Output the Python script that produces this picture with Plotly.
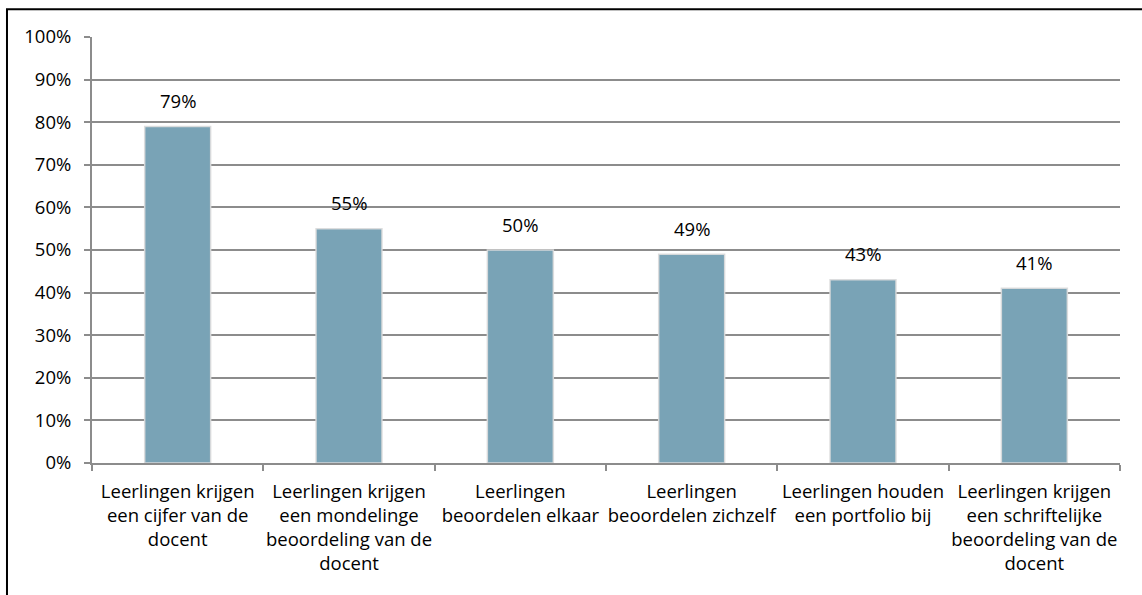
import plotly.graph_objects as go

categories = [
    "Leerlingen krijgen<br>een cijfer van de<br>docent",
    "Leerlingen krijgen<br>een mondelinge<br>beoordeling van de<br>docent",
    "Leerlingen<br>beoordelen elkaar",
    "Leerlingen<br>beoordelen zichzelf",
    "Leerlingen houden<br>een portfolio bij",
    "Leerlingen krijgen<br>een schriftelijke<br>beoordeling van de<br>docent",
]
values = [79, 55, 50, 49, 43, 41]
y_ticks = list(range(0, 101, 10))
y_tick_labels = [f"{v}%" for v in y_ticks]

FONT = "Open Sans, Liberation Sans, sans-serif"
FSIZE = 18.5
GRID = "#8c8c8c"

fig = go.Figure()
fig.add_trace(go.Bar(
    x=categories,
    y=values,
    width=0.385,
    marker=dict(color="#79a3b6", line=dict(color="rgba(220,220,220,0.9)", width=1.5)),
    hoverinfo="x+y",
))

# Value labels above each bar
for cat, v in zip(categories, values):
    fig.add_annotation(
        x=cat, y=v, xref="x", yref="y",
        text=f"{v}%", showarrow=False,
        yanchor="middle", yshift=26,
        font=dict(family=FONT, size=FSIZE, color="#000000"),
    )

fig.update_layout(
    width=1142, height=595,
    margin=dict(l=92, r=22, t=37, b=132),
    paper_bgcolor="white", plot_bgcolor="white",
    showlegend=False,
    font=dict(family=FONT, size=FSIZE, color="#000000"),
)
fig.update_yaxes(
    range=[0, 100],
    tickvals=y_ticks, ticktext=y_tick_labels,
    showgrid=True, gridcolor=GRID, gridwidth=2,
    showline=True, linecolor=GRID, linewidth=2,
    ticks="outside", ticklen=6, tickcolor=GRID, tickwidth=2,
    tickfont=dict(family=FONT, size=FSIZE),
    ticklabelstandoff=9,
    zeroline=False,
)
fig.update_xaxes(
    showline=True, linecolor=GRID, linewidth=2,
    ticks="outside", ticklen=6, tickcolor=GRID, tickwidth=2,
    tickson="boundaries",
    tickfont=dict(family=FONT, size=FSIZE),
    ticklabelstandoff=11,
    tickangle=0,
)
# Outer frame around the chart area
fig.add_shape(type="rect", xref="paper", yref="paper",
              x0=-0.0827, x1=1.2, y0=-0.6, y1=1.0654,
              line=dict(color="black", width=2), layer="above")

fig.write_html("out.html")
